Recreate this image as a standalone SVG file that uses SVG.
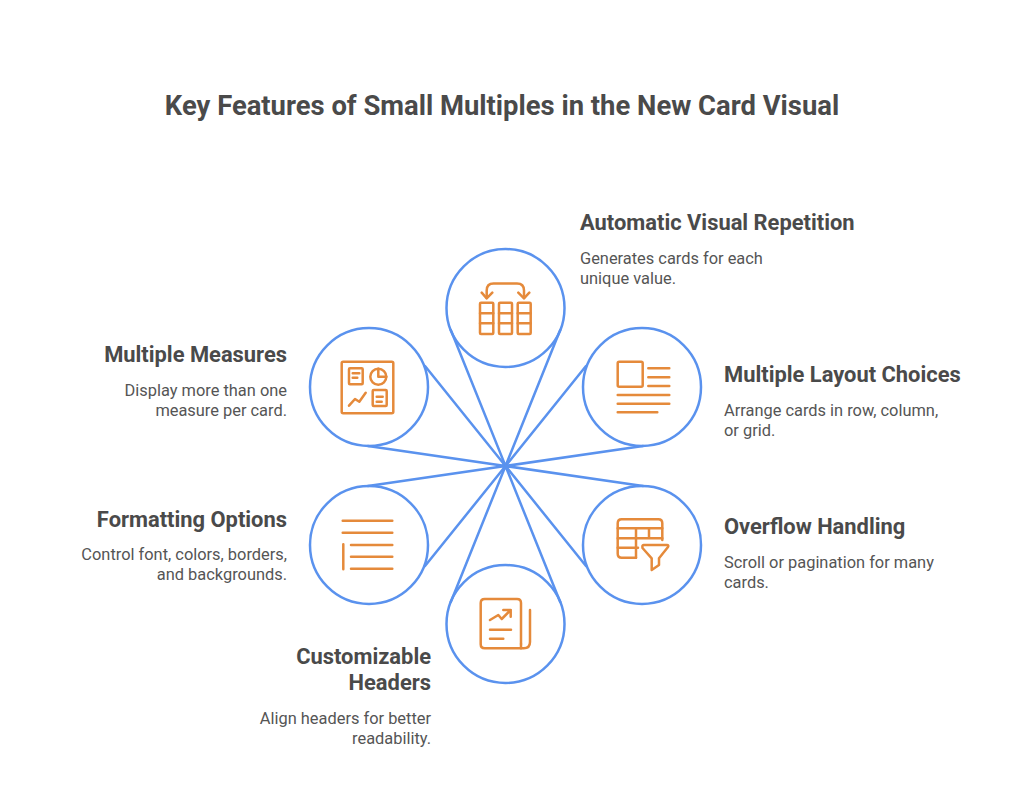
<svg xmlns="http://www.w3.org/2000/svg" width="1024" height="801" viewBox="0 0 1024 801">
<style>
text{font-family:Roboto,"Liberation Sans",sans-serif;fill:#4A4A4A}
.t{font-size:27.4px;font-weight:700}
.h{font-size:21.9px;font-weight:700}
.b{font-size:16.4px;font-weight:400;fill:#555}
.e{text-anchor:end}
.c{fill:none;stroke:#5A92EE;stroke-width:2.5}
.i{fill:none;stroke:#E58A3B;stroke-width:2.5;stroke-linecap:round;stroke-linejoin:round}
</style>
<rect width="1024" height="801" fill="#fff"/>
<text id="title" class="t" x="502" y="114.6" text-anchor="middle">Key Features of Small Multiples in the New Card Visual</text>
<g id="connectors" class="c" stroke-linecap="round">
<path d="M450.8 330L505.5 466L560.2 330"/>
<path d="M368 446L505.5 466L425 366"/>
<path d="M643 446L505.5 466L586 366"/>
<path d="M643 486L505.5 466L586 566"/>
<path d="M368 486L505.5 466L425 566"/>
<path d="M450.8 602L505.5 466L560.2 602"/>
</g>
<g id="node-automatic">
<circle class="c" cx="505.5" cy="308" r="59"/>
<g class="i">
<rect x="480" y="302.7" width="13.3" height="31.3" rx="1"/><path d="M480 313.3H493.3M480 323.3H493.3"/>
<rect x="499" y="302.7" width="13" height="31.3" rx="1"/><path d="M499 313.3H512M499 323.3H512"/>
<rect x="517.7" y="302.7" width="13" height="31.3" rx="1"/><path d="M517.7 313.3H530.7M517.7 323.3H530.7"/>
<path d="M486.7 298V290.5Q486.7 283.5 493.5 283.5H517Q524 283.5 524 290.5V298"/>
<path d="M481.7 292.7L486.7 298.3L492.3 292.7M518.3 292.7L524 298.3L529.3 292.7"/>
</g>
<text class="h" x="580" y="230.4">Automatic Visual Repetition</text>
<text class="b" x="580" y="264.4">Generates cards for each</text>
<text class="b" x="580" y="284.4">unique value.</text>
</g>
<g id="node-measures">
<circle class="c" cx="369" cy="387" r="59"/>
<g class="i">
<rect x="341.7" y="361.7" width="51.6" height="51.6" rx="1.5"/>
<rect x="349" y="368.3" width="13.7" height="16" rx="1"/><path d="M352.7 373.3H359.3M352.7 377.7H357.3"/>
<circle cx="378.3" cy="376.7" r="8"/><path d="M378.3 368.7V376.7H386.3"/>
<rect x="372.7" y="390" width="14" height="16" rx="1"/><path d="M376.7 396.7H382.7M376.7 401.7H381.7"/>
<path d="M349 405.7L355 399L359.3 401.7L365.7 392.7"/>
</g>
<text class="h e" x="287" y="361.6">Multiple Measures</text>
<text class="b e" x="287" y="395.6">Display more than one</text>
<text class="b e" x="287" y="415.6">measure per card.</text>
</g>
<g id="node-layout">
<circle class="c" cx="642" cy="387" r="59"/>
<g class="i">
<rect x="617.7" y="361.7" width="25" height="25" rx="1.5"/>
<path d="M648.3 368.3H669.3M648.3 377.3H669.3M648.3 386H669.3M617.7 395H669.3M617.7 403.7H669.3M617.7 412.3H657.3"/>
</g>
<text class="h" x="724" y="381.5">Multiple Layout Choices</text>
<text class="b" x="724" y="415.5">Arrange cards in row, column,</text>
<text class="b" x="724" y="435.5">or grid.</text>
</g>
<g id="node-overflow">
<circle class="c" cx="642" cy="545" r="59"/>
<g class="i">
<path d="M662.3 540V523.3Q662.3 519.3 658.3 519.3H621.7Q617.7 519.3 617.7 523.3V553.7Q617.7 557.7 621.7 557.7H636"/>
<path d="M617.7 528.3H662.3M617.7 538.3H662.3M617.7 547.7H638M636 528.3V557.7M649 528.3V538.3"/>
<path d="M643.5 545H667Q669 545 668 547L659 558.3V565L651.7 570V558.3L642.5 548Q642 545 643.5 545Z"/>
</g>
<text class="h" x="724" y="533.5">Overflow Handling</text>
<text class="b" x="724" y="567.5">Scroll or pagination for many</text>
<text class="b" x="724" y="587.5">cards.</text>
</g>
<g id="node-formatting">
<circle class="c" cx="369" cy="545" r="59"/>
<g class="i">
<path d="M342.7 520.7H392.3M342.7 532.7H392.3M351 545H392.3M351 556.7H392.3M351 568.7H392.3M343.3 544.3V569.3"/>
</g>
<text class="h e" x="287" y="526.5">Formatting Options</text>
<text class="b e" x="287" y="559.5">Control font, colors, borders,</text>
<text class="b e" x="287" y="579.5">and backgrounds.</text>
</g>
<g id="node-headers">
<circle class="c" cx="505.5" cy="624" r="59"/>
<g class="i">
<path d="M521 648.3H484.7Q480.7 648.3 480.7 644.3V603Q480.7 599 484.7 599H517Q521 599 521 603V644"/>
<path d="M530 610V642Q530 648.3 523.7 648.3H521Q521 648.3 521 644"/>
<path d="M490 620L498.3 615L501.7 619L510.7 610M503.3 610H510.7V616.7M490 629.7H511M490 638.7H503.3"/>
</g>
<text class="h e" x="431" y="663.6">Customizable</text>
<text class="h e" x="431" y="689.6">Headers</text>
<text class="b e" x="431" y="723.6">Align headers for better</text>
<text class="b e" x="431" y="743.6">readability.</text>
</g>
</svg>
